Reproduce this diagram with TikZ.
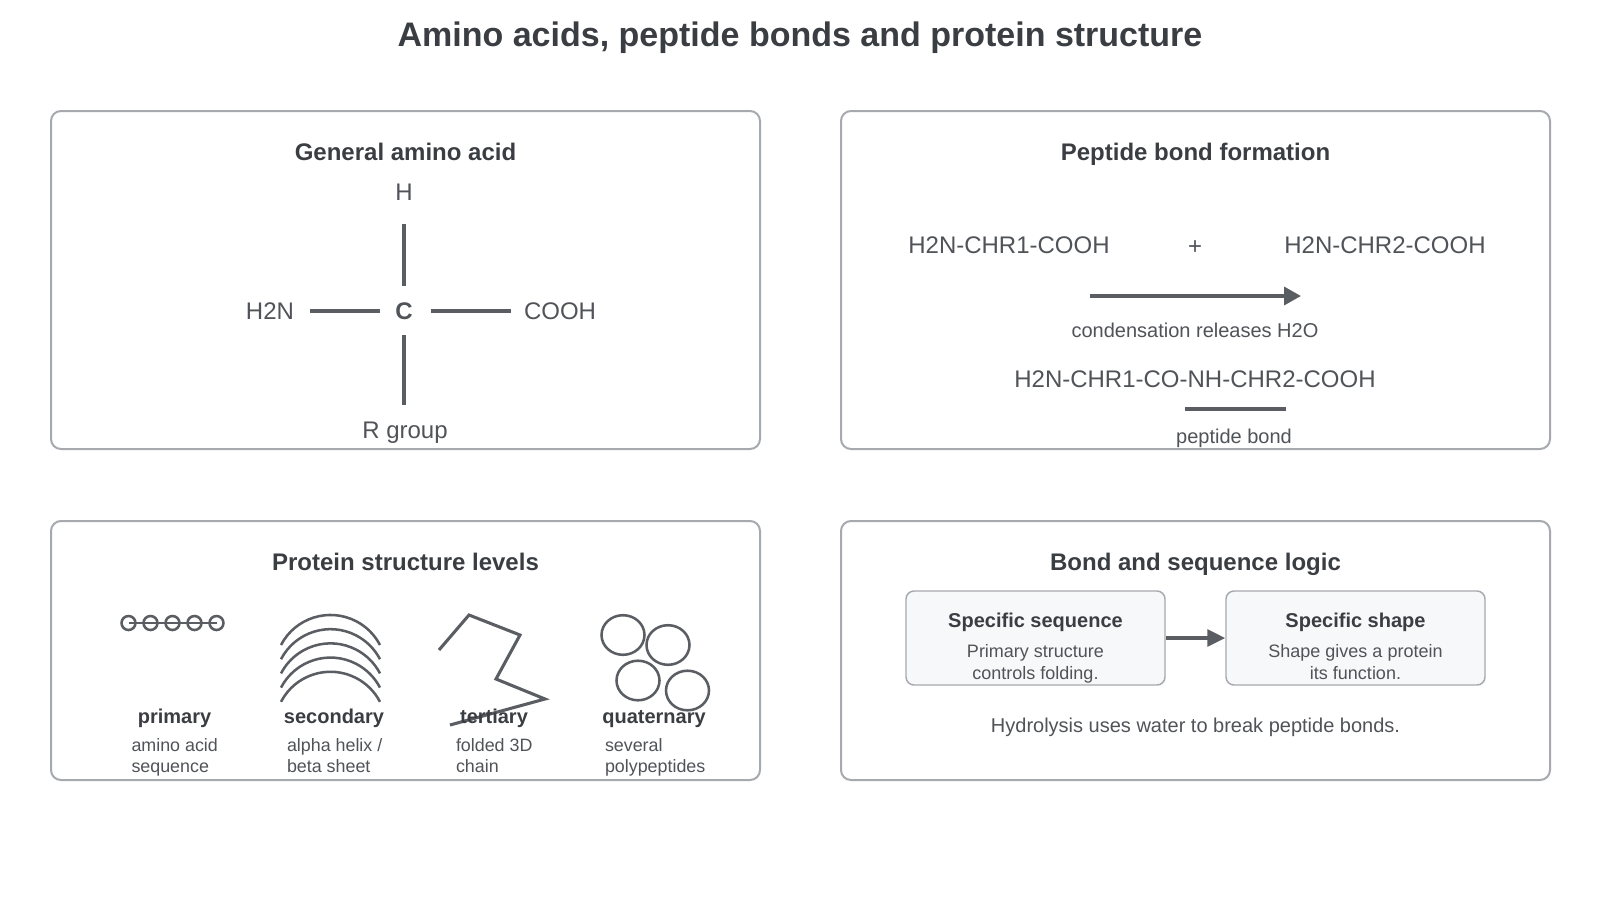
\documentclass[tikz,border=0pt]{standalone}
\usepackage{fontspec}
\setmainfont{Liberation Sans}
\usetikzlibrary{arrows.meta}
\definecolor{ttlc}{HTML}{3A3D42}
\definecolor{txtc}{HTML}{505358}
\definecolor{linec}{HTML}{5A5D62}
\definecolor{panelc}{HTML}{A6A9AE}
\definecolor{iboxfill}{HTML}{F7F8FA}
\begin{document}
\begin{tikzpicture}[x=0.75pt,y=-0.75pt,
  base/.style={inner sep=0pt, outer sep=0pt, anchor=center},
  maintitle/.style={base, text=ttlc, font=\bfseries\fontsize{25.5}{30}\selectfont, text height=18.4pt, text depth=0pt},
  ptitle/.style={base, text=ttlc, font=\bfseries\fontsize{18}{22}\selectfont, text height=13pt, text depth=0pt},
  form/.style={base, text=txtc, font=\fontsize{18}{22}\selectfont, text height=13pt, text depth=0pt},
  small/.style={base, text=txtc, font=\fontsize{15}{18}\selectfont, text height=10.8pt, text depth=0pt},
  smallb/.style={base, text=ttlc, font=\bfseries\fontsize{15}{18}\selectfont, text height=10.8pt, text depth=0pt},
  boxt/.style={base, text=txtc, font=\fontsize{13.5}{16}\selectfont, text height=9.7pt, text depth=0pt},
  desc/.style={boxt, anchor=west, font=\fontsize{13.4}{16}\selectfont},
  panel/.style={draw=panelc, line width=1.5pt, rounded corners=7.5pt},
  ibox/.style={draw=panelc, line width=1.1pt, fill=iboxfill, rounded corners=6pt, minimum width=194.25pt, minimum height=70.5pt, inner sep=0pt},
  bond/.style={draw=linec, line width=2.3pt},
  icon/.style={draw=linec, line width=1.9pt},
  arr/.style={draw=linec, line width=2.6pt, -{Triangle[length=12.75pt,width=13.5pt]}},
]
\useasboundingbox (0,0) rectangle (1600,900);
\fill[white] (0,0) rectangle (1600,900);

\node[maintitle] (title) at (800,34) {Amino acids, peptide bonds and protein structure};

% panels
\draw[panel] (51,111) rectangle (760,449);
\draw[panel] (841,111) rectangle (1550,449);
\draw[panel] (51,521) rectangle (760,780);
\draw[panel] (841,521) rectangle (1550,780);

% ---- General amino acid
\node[ptitle] (t1) at (405.5,152) {General amino acid};
\node[form] (H) at (404,192) {H};
\node[form, font=\bfseries\fontsize{18}{22}\selectfont] (C) at (404,311) {C};
\node[form] (HN) at (270,311) {H2N};
\node[form] (COOH) at (560,311) {COOH};
\node[form] (R) at (405,430) {R group};
\draw[bond, shorten <=17.5pt, shorten >=12.2pt] (H) -- (C);
\draw[bond, shorten <=11.5pt, shorten >=19pt] (C) -- (C |- R);
\draw[bond, shorten <=12pt, shorten >=11.5pt] (HN) -- (C);
\draw[bond, shorten <=13.7pt, shorten >=9.75pt] (C) -- (COOH);

% ---- Peptide bond formation
\node[ptitle] (t2) at (1195.5,152) {Peptide bond formation};
\node[form] (aa1) at (1009,245) {H2N-CHR1-COOH};
\node[form] (plus) at (1195,246) {+};
\node[form] (aa2) at (1385,245) {H2N-CHR2-COOH};
\coordinate (arS) at (1090,296);
\coordinate (arE) at (1301,296);
\draw[arr] (arS) -- (arE);
\node[small] (cond) at (1195,330) {condensation releases H2O};
\node[form] (prod) at (1195,378.5) {H2N-CHR1-CO-NH-CHR2-COOH};
\coordinate (ulS) at (1185,409);
\coordinate (ulE) at (1286,409);
\draw[draw=linec, line width=2.6pt] (ulS) -- (ulE);
\node[small] (pb) at (1234,436) {peptide bond};

% ---- Protein structure levels
\node[ptitle] (t3) at (405.5,562) {Protein structure levels};
% primary
\draw[icon] (128.5,623) -- (216.5,623);
\foreach \cx in {128.5,150.5,172.5,194.5,216.5} {
  \draw[icon] (\cx,623) circle[radius=7];
}
% secondary
\foreach \i in {0,1,2,3,4} {
  \pgfmathsetmacro{\ty}{615+14.2*\i}
  \draw[icon] (281,\ty+30) arc[start angle=207.5, end angle=332.5, radius=55.8];
}
% tertiary
\draw[icon, line width=2.3pt] (439,650) -- (469,615) -- (520,635) -- (496,679) -- (545,699) -- (450,725);
% quaternary
\draw[icon] (623,635) ellipse[x radius=21.5, y radius=19.8];
\draw[icon] (668,645) ellipse[x radius=21.5, y radius=19.8];
\draw[icon] (638,680.5) ellipse[x radius=21.5, y radius=19.8];
\draw[icon] (687.5,690.5) ellipse[x radius=21.5, y radius=19.8];

\node[smallb] (l1) at (174.5,716) {primary};
\node[smallb] (l2) at (334,716) {secondary};
\node[smallb] (l3) at (494,716) {tertiary};
\node[smallb] (l4) at (654,716) {quaternary};

\node[desc] (d1a) at (131.5,745) {amino acid};
\node[desc] (d1b) at (131.5,766) {sequence};
\node[desc] (d2a) at (287,745) {alpha helix /};
\node[desc] (d2b) at (287,766) {beta sheet};
\node[desc] (d3a) at (456,745) {folded 3D};
\node[desc] (d3b) at (456,766) {chain};
\node[desc] (d4a) at (605,745) {several};
\node[desc] (d4b) at (605,766) {polypeptides};

% ---- Bond and sequence logic
\node[ptitle] (t4) at (1195.5,562) {Bond and sequence logic};
\node[ibox] (b1) at (1035.5,638) {};
\node[ibox] (b2) at (1355.5,638) {};
\node[smallb] (b1t) at (1035.5,620) {Specific sequence};
\node[boxt] (b1a) at (1035.5,651.5) {Primary structure};
\node[boxt] (b1b) at (1035.5,673) {controls folding.};
\node[smallb] (b2t) at (1355.5,620) {Specific shape};
\node[boxt] (b2a) at (1355.5,651.5) {Shape gives a protein};
\node[boxt] (b2b) at (1355.5,673) {its function.};
\draw[arr, line width=2.8pt, -{Triangle[length=13.5pt,width=12.5pt]}] (b1.east) -- (b2.west);
\node[small] (hyd) at (1195.5,725) {Hydrolysis uses water to break peptide bonds.};
\end{tikzpicture}
\end{document}
